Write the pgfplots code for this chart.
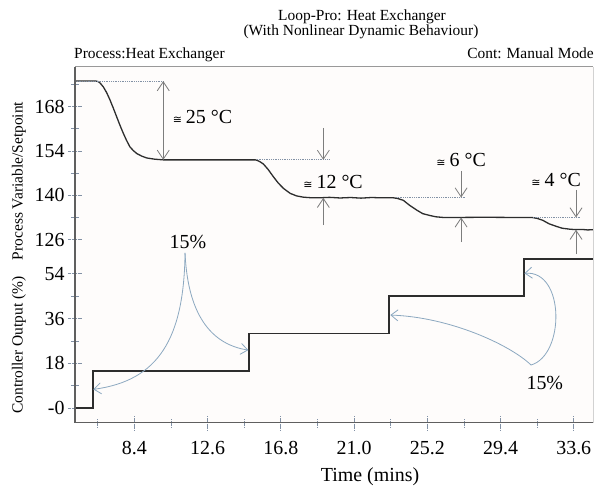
\documentclass[border=0pt]{standalone}
\usepackage{fontspec}
\setmainfont{Liberation Serif}
\newfontfamily\djs{DejaVu Sans}
\usepackage{pgfplots}
\pgfplotsset{compat=1.18}
\usetikzlibrary{arrows.meta}
\definecolor{framec}{RGB}{95,95,95}
\definecolor{curvec}{RGB}{45,45,45}
\definecolor{annot}{RGB}{125,125,125}
\definecolor{dotc}{RGB}{130,145,165}
\definecolor{blu}{RGB}{140,168,192}
\definecolor{bgc}{RGB}{254,252,251}
\newcommand{\cg}{{\djs\fontsize{11}{11}\selectfont ≅}\hspace{4bp}}
\pgfplotsset{
  mystyle/.style={
    scale only axis, width=518.3bp, xmin=5, xmax=34.72,
    axis line style={draw=none}, clip=false,
    tick align=center, tick pos=left,
    major tick length=14bp, minor tick length=8bp,
    tick style={densely dotted, dotc, line width=0.8bp},
    tick label style={font=\fontsize{20}{20}\selectfont},
    xticklabel style={yshift=-8bp},
  },
}
\tikzset{
  ann/.style={annot, line width=0.8bp},
  dotl/.style={dotc, densely dotted, line width=0.8bp},
  barb/.style={-{Straight Barb[length=9bp,width=12bp]}},
  bbarb/.style={{Straight Barb[length=9bp,width=12bp]}-{Straight Barb[length=9bp,width=12bp]}},
  cbarb/.style={blu, line width=0.8bp, -{Straight Barb[length=7bp,width=11bp]}},
}
\begin{document}
\begin{tikzpicture}
\path[use as bounding box] (0bp,0bp) rectangle (596bp,-489bp);
\fill[bgc] (75bp,-66.7bp) rectangle (593.3bp,-422.7bp);

% top axis: process variable
\begin{axis}[mystyle, at={(75bp,-66.7bp)}, anchor=north west, height=188.3bp,
  ymin=121.13, ymax=180.64,
  ytick={126,140,154,168}, yticklabels={126,140,154,168},
  minor ytick={133,147,161,175}, xtick=\empty]
\addplot[curvec, line width=1.3bp] coordinates {
(5.00,176.1)(6.20,176.1)(6.35,175.9)(6.45,175.4)(6.62,174.3)(6.82,172.4)(7.01,170.1)(7.20,167.5)(7.39,164.8)(7.58,162.1)(7.77,159.6)(7.96,157.3)(8.15,155.3)(8.35,154.1)(8.54,153.2)(8.82,152.4)(9.11,151.8)(9.58,151.4)(10.06,151.2)(12.0,151.2)(14.0,151.2)(15.35,151.2)(15.50,150.9)(15.61,150.6)(15.80,149.9)(16.07,148.2)(16.37,145.9)(16.65,143.9)(16.95,142.2)(17.34,140.6)(17.71,139.8)(18.10,139.4)(18.48,139.25)(19.0,139.2)(19.6,139.35)(20.2,139.15)(20.8,139.3)(21.4,139.1)(22.0,139.3)(22.6,139.2)(23.26,139.2)(23.50,139.0)(23.83,138.4)(24.17,136.9)(24.60,135.3)(24.94,134.2)(25.36,133.6)(25.70,133.2)(26.1,133.0)(27.0,133.0)(28.5,133.05)(30.0,133.0)(31.20,133.0)(31.50,132.7)(31.82,132.1)(32.18,131.0)(32.59,130.2)(32.93,129.6)(33.35,129.3)(33.7,129.15)(34.1,129.2)(34.4,129.05)(34.72,129.15)
};
% 25 C
\draw[dotl] (axis cs:5,176.1) -- (axis cs:10.06,176.1);
\draw[ann,bbarb] (axis cs:10.06,176.1) -- (axis cs:10.06,151.2);
\node[anchor=center, font=\fontsize{20}{20}\selectfont] at (axis cs:12.31,164.8) {\cg 25 °C};
% 12 C
\draw[dotl] (axis cs:15.42,151.2) -- (axis cs:19.62,151.2);
\draw[ann,barb] (axis cs:19.24,161.3) -- (axis cs:19.24,151.2);
\draw[ann,barb] (axis cs:19.24,130.6) -- (axis cs:19.24,139.2);
\node[font=\fontsize{20}{20}\selectfont] at (axis cs:19.80,144.3) {\cg 12 °C};
% 6 C
\draw[dotl] (axis cs:23.41,139.3) -- (axis cs:27.42,139.3);
\draw[ann,barb] (axis cs:27.14,147.7) -- (axis cs:27.14,139.3);
\draw[ann,barb] (axis cs:27.14,125.2) -- (axis cs:27.14,133.0);
\node[font=\fontsize{20}{20}\selectfont] at (axis cs:27.14,151.15) {\cg 6 °C};
% 4 C
\draw[dotl] (axis cs:31.25,133.0) -- (axis cs:34.02,133.0);
\draw[ann,barb] (axis cs:33.73,141.7) -- (axis cs:33.73,133.0);
\draw[ann,barb] (axis cs:33.73,121.4) -- (axis cs:33.73,129.1);
\node[font=\fontsize{20}{20}\selectfont] at (axis cs:32.59,144.8) {\cg 4 °C};
\end{axis}

% bottom axis: controller output
\begin{axis}[mystyle, at={(75bp,-255bp)}, anchor=north west, height=167.7bp,
  ymin=-5.92, ymax=61.57,
  ytick={0,18,36,54}, yticklabels={-0,18,36,54},
  minor ytick={9,27,45},
  xtick={8.4,12.6,16.8,21.0,25.2,29.4,33.6},
  xticklabels={8.4,12.6,16.8,21.0,25.2,29.4,33.6},
  minor xtick={6.3,10.5,14.7,18.9,23.1,27.3,31.5}]
\addplot[curvec, line width=1.7bp] coordinates {
(5.00,0)(6.03,0)(6.03,15)(14.99,15)(14.99,30)(23.02,30)(23.02,45)(30.73,45)(30.73,60)(34.72,60)
};
\node[font=\fontsize{20}{20}\selectfont] at (axis cs:11.48,66.8) {15\%};
\draw[cbarb] (axis cs:11.31,62.4) .. controls (axis cs:11.25,28.0) and (axis cs:9.80,11.0) .. (axis cs:6.05,7.5);
\draw[cbarb] (axis cs:11.31,62.4) .. controls (axis cs:11.48,35.4) and (axis cs:13.03,25.4) .. (axis cs:14.94,23.3);
\node[font=\fontsize{20}{20}\selectfont] at (axis cs:31.94,9.9) {15\%};
\draw[cbarb] (axis cs:31.15,17.3) .. controls (axis cs:29.95,25.4) and (axis cs:26.5,36.6) .. (axis cs:23.08,37.4);
\draw[cbarb] (axis cs:31.15,17.3) .. controls (axis cs:33.1,21.3) and (axis cs:33.1,55.5) .. (axis cs:30.77,54.2);
\end{axis}

% frame
\draw[framec, line width=1.3bp] (75bp,-66.7bp) -- (75bp,-422.7bp) -- (593.3bp,-422.7bp);
\draw[gray!80, line width=1.2bp] (75bp,-66.7bp) -- (593.3bp,-66.7bp);
\draw[gray!35, line width=0.8bp] (593.3bp,-66.7bp) -- (593.3bp,-422.7bp);

% titles and labels
\node[anchor=base, inner sep=0, font=\fontsize{15.5}{15.5}\selectfont] at (362bp,-20bp) {Loop-Pro: Heat Exchanger};
\node[anchor=base, inner sep=0, font=\fontsize{15.5}{15.5}\selectfont] at (361bp,-35bp) {(With Nonlinear Dynamic Behaviour)};
\node[anchor=base west, inner sep=0, font=\fontsize{15.5}{15.5}\selectfont] at (74bp,-58.3bp) {Process:Heat Exchanger};
\node[anchor=base east, inner sep=0, font=\fontsize{15.5}{15.5}\selectfont] at (594bp,-58.3bp) {Cont: Manual Mode};
\node[anchor=base, inner sep=0, font=\fontsize{20}{20}\selectfont] at (370bp,-481.7bp) {Time (mins)};
\node[rotate=90, inner sep=0, font=\fontsize{15.5}{15.5}\selectfont] at (19bp,-181bp) {Process Variable/Setpoint};
\node[rotate=90, inner sep=0, font=\fontsize{15.5}{15.5}\selectfont] at (19bp,-345bp) {Controller Output (\%)};
\end{tikzpicture}
\end{document}
